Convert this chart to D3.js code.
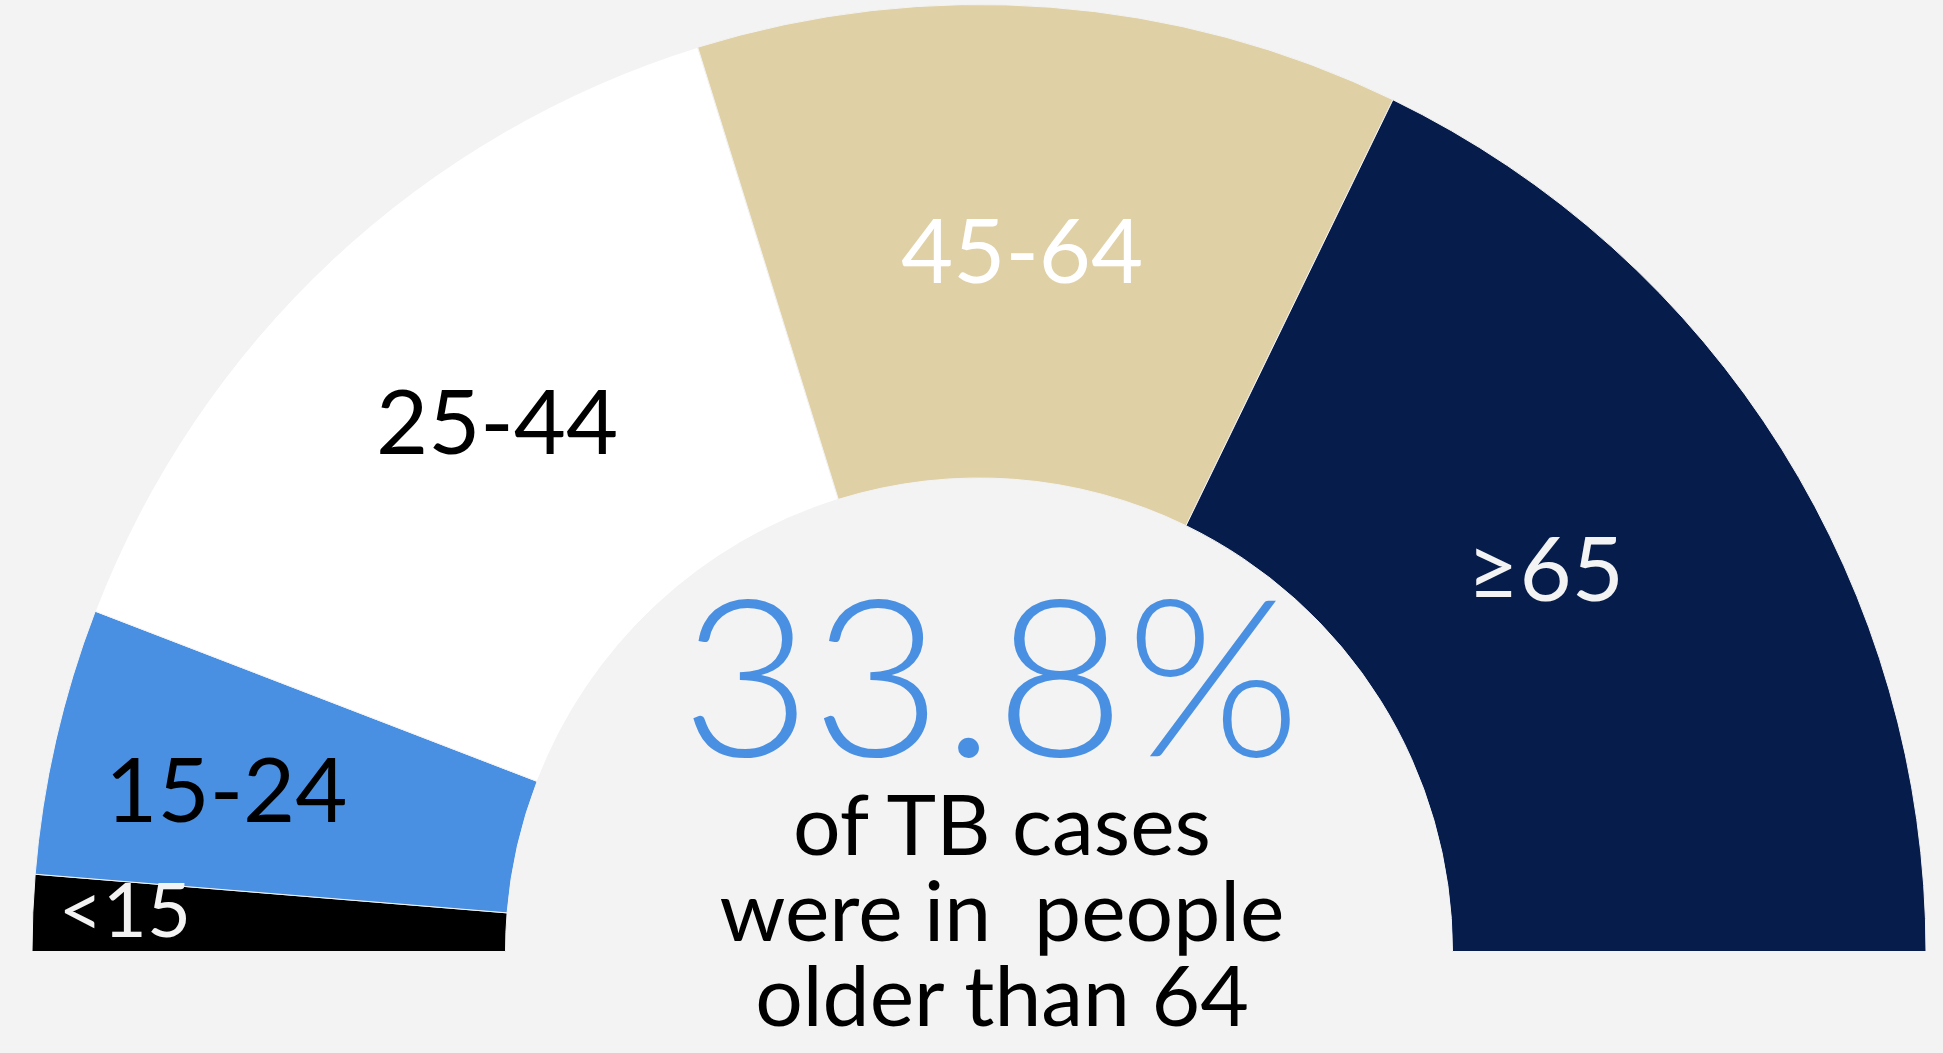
<!DOCTYPE html>
<html lang="en">
<head>
  <meta charset="UTF-8">
  <title>TB cases by age group</title>
  <style>
    body { margin: 0; background: #f3f3f3; }
    svg { display: block; }
  </style>
</head>
<body>
<script src="https://d3js.org/d3.v7.min.js"></script>
<div id="chart"></div>
<script>
    // data (share of TB cases, %)
    const ageGroups = ["<15", "15-24", "25-44", "45-64", "\u226565"];
    const shares = [2.6, 9.1, 28.7, 24.0, 35.6];
    const headline = "33.8%";
    const caption = ["of TB cases", "were in  people", "older than 64"];

    // layout
    const width = 1943, height = 1053;
    const cx = 979, cy = 951.5;
    const outerR = 947, innerR = 473.5;
    const fills = ["#000000", "#4a90e2", "#ffffff", "#e0d0a5", "#061c4b"];
    const labelColors = ["#f3f3f3", "#000000", "#000000", "#ffffff", "#f3f3f3"];
    const labelSizes = [76, 90, 90, 90, 90];
    // label placement: radius as share of outer radius, nudge in degrees
    const labelRadius = [0.903, 0.813, 0.756, 0.742, 0.722];
    const labelNudge = [0.5, -0.7, 0.8, -0.8, -2.0];

    const svg = d3.select("#chart")
      .append("svg")
        .attr("width", width)
        .attr("height", height);

    svg.append("rect")
      .attr("width", width)
      .attr("height", height)
      .attr("fill", "#f3f3f3");

    const g = svg.append("g")
      .attr("transform", `translate(${cx},${cy})`);

    const pie = d3.pie()
      .sort(null)
      .value(d => d.value)
      .startAngle(-Math.PI / 2)
      .endAngle(Math.PI / 2);

    const data = ageGroups.map((k, i) => ({ key: k, value: shares[i], i: i }));
    const arcs = pie(data);

    const arc = d3.arc()
      .innerRadius(innerR)
      .outerRadius(outerR);

    g.selectAll("path.slice")
      .data(arcs)
      .join("path")
        .attr("class", "slice")
        .attr("d", arc)
        .attr("fill", d => fills[d.data.i])
        .attr("stroke", "#f3f3f3")
        .attr("stroke-width", 1);

    // labels
    g.selectAll("text.lbl")
      .data(arcs)
      .join("text")
        .attr("class", "lbl")
        .attr("transform", d => {
          const i = d.data.i;
          const r = labelRadius[i] * outerR;
          const a = (d.startAngle + d.endAngle) / 2 + labelNudge[i] * Math.PI / 180;
          return `translate(${r * Math.sin(a)},${-r * Math.cos(a)})`;
        })
        .attr("dy", "0.36em")
        .attr("text-anchor", "middle")
        .attr("font-family", "Lato, sans-serif")
        .attr("font-size", d => labelSizes[d.data.i])
        .attr("fill", d => labelColors[d.data.i])
        .text(d => d.data.key);

    // centre text
    svg.append("text")
      .attr("x", 991)
      .attr("y", 756)
      .attr("text-anchor", "middle")
      .attr("font-family", "Lato, sans-serif")
      .attr("font-weight", 300)
      .attr("font-size", 220)
      .attr("textLength", 620)
      .attr("lengthAdjust", "spacingAndGlyphs")
      .attr("fill", "#4a90e2")
      .text(headline);

    svg.append("g")
      .selectAll("text")
      .data(caption)
      .join("text")
        .attr("x", 1002)
        .attr("y", (d, i) => 855 + i * 85.5)
        .attr("text-anchor", "middle")
        .attr("font-family", "Lato, sans-serif")
        .attr("font-size", 84)
        .attr("fill", "#000")
        .style("white-space", "pre")
        .text(d => d);
</script>
</body>
</html>
